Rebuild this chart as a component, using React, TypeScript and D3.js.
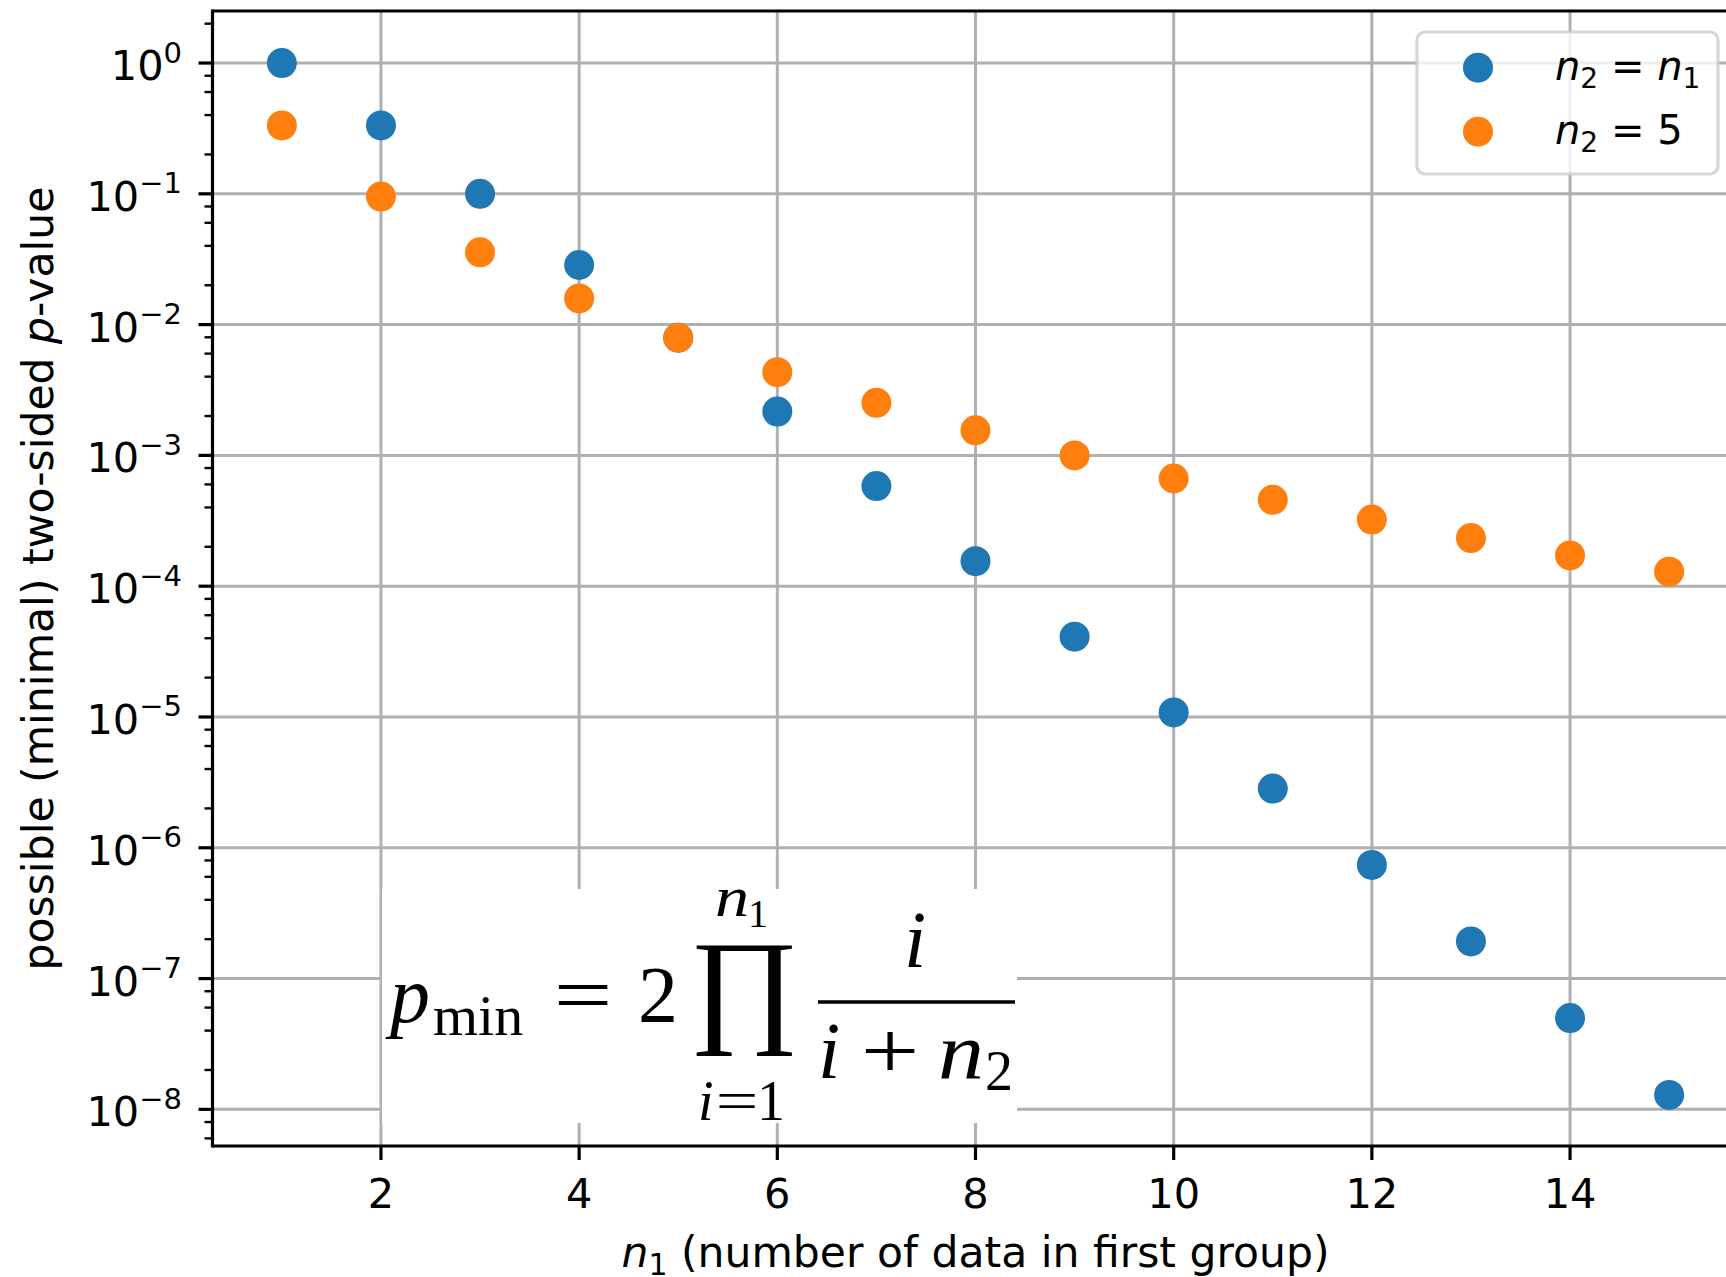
import React, { useMemo } from 'react';
import * as d3 from 'd3';

// ---- data ----
const n1Values = [1, 2, 3, 4, 5, 6, 7, 8, 9, 10, 11, 12, 13, 14, 15];
const pEqualN = [1.0, 0.3333, 0.1, 0.02857, 0.007937, 0.002165, 0.0005828, 0.0001554, 4.114e-5, 1.083e-5, 2.835e-6, 7.396e-7, 1.923e-7, 4.985e-8, 1.289e-8];
const pN2Five = [0.3333, 0.09524, 0.03571, 0.01587, 0.007937, 0.004329, 0.002525, 0.001554, 0.000999, 0.000666, 0.0004579, 0.0003232, 0.0002334, 0.000172, 0.000129];
const xTicks = [2, 4, 6, 8, 10, 12, 14];
const yTickExponents = [0, -1, -2, -3, -4, -5, -6, -7, -8];
const yMinorSubs = [2, 4, 6, 8];
const seriesColors = ['#1f77b4', '#ff7f0e'];

const W = 1726;
const H = 1277;
const LEFT = 212.5;
const RIGHT = 1738.5;
const TOP = 11;
const BOTTOM = 1146;

const SANS = "'DejaVu Sans', sans-serif";
const SERIF = "'Liberation Serif', 'DejaVu Serif', serif";

function useInkFit(text: string, font: string, box: [number, number, number, number]) {
  return useMemo(() => {
    const ctx = document.createElement('canvas').getContext('2d');
    if (!ctx) return '';
    ctx.font = `100px ${font}`;
    const m = ctx.measureText(text);
    const l = -m.actualBoundingBoxLeft;
    const r = m.actualBoundingBoxRight;
    const t = -m.actualBoundingBoxAscent;
    const b = m.actualBoundingBoxDescent;
    const [x0, y0, x1, y1] = box;
    const sx = (x1 - x0) / (r - l);
    const sy = (y1 - y0) / (b - t);
    return `translate(${x0 - l * sx},${y0 - t * sy}) scale(${sx},${sy})`;
  }, [text, font, box[0], box[1], box[2], box[3]]);
}

export default function App() {
  const x = d3.scaleLinear().domain([0.3, 15.7]).range([LEFT, RIGHT]);
  const y = d3.scaleLog().domain([Math.pow(10, -8.284), Math.pow(10, 0.394)]).range([BOTTOM + 0.5, TOP + 0.5]);
  const [yLo, yHi] = y.domain();

  const minorTicks: number[] = [];
  for (let k = -9; k <= 0; k++) {
    for (const s of yMinorSubs) {
      const v = s * Math.pow(10, k);
      if (v >= yLo && v <= yHi) minorTicks.push(v);
    }
  }

  const prodTransform = useInkFit('\u220F', SERIF, [696, 945, 792, 1057]);

  const grid = '#b0b0b0';
  const series = [
    { values: pEqualN, color: seriesColors[0] },
    { values: pN2Five, color: seriesColors[1] },
  ];

  return (
    <svg width={W} height={H} style={{ position: 'absolute', left: 0, top: 0, background: '#fff' }}>
      <rect x={0} y={0} width={W} height={H} fill="#fff" />
      {/* grid */}
      {xTicks.map((t) => (
        <line key={'gx' + t} x1={x(t)} x2={x(t)} y1={TOP} y2={BOTTOM} stroke={grid} strokeWidth={3} />
      ))}
      {yTickExponents.map((e) => (
        <line key={'gy' + e} x1={LEFT} x2={RIGHT} y1={y(Math.pow(10, e))} y2={y(Math.pow(10, e))} stroke={grid} strokeWidth={3} />
      ))}

      {/* formula */}
      <rect x={382} y={889} width={635} height={234} fill="#fff" />
      <g fontFamily={SERIF} fill="#000">
        <text x={390} y={1022} fontSize={80} fontStyle="italic">p</text>
        <text x={433} y={1035} fontSize={58}>min</text>
        <text transform="translate(583,1022) scale(1.3,1)" fontSize={80} textAnchor="middle">=</text>
        <text x={638} y={1022} fontSize={80}>2</text>
        <text transform={prodTransform} fontSize={100}>{'\u220F'}</text>
        <text transform="translate(715,916) scale(1.22,1)" fontSize={56} fontStyle="italic">n</text>
        <text x={748} y={927} fontSize={40}>1</text>
        <text x={698} y={1120} fontSize={56} fontStyle="italic">i</text>
        <text transform="translate(737,1120) scale(1.35,1)" fontSize={56} textAnchor="middle">=</text>
        <text x={757} y={1120} fontSize={56}>1</text>
        <text x={904} y={967} fontSize={80} fontStyle="italic">i</text>
        <line x1={818} x2={1015} y1={1002} y2={1002} stroke="#000" strokeWidth={3.5} />
        <text x={818} y={1078} fontSize={80} fontStyle="italic">i</text>
        <text transform="translate(890,1078) scale(1.3,1)" fontSize={80} textAnchor="middle">+</text>
        <text transform="translate(938,1078) scale(1.15,1)" fontSize={80} fontStyle="italic">n</text>
        <text x={985} y={1090} fontSize={56}>2</text>
      </g>

      {/* points */}
      {series.map((s, si) => (
        <g key={'s' + si} fill={s.color}>
          {n1Values.map((n, i) => (
            <circle key={i} cx={x(n)} cy={y(s.values[i])} r={15} />
          ))}
        </g>
      ))}

      {/* spines */}
      <g stroke="#000" strokeWidth={3.2} fill="none">
        <line x1={LEFT} x2={LEFT} y1={TOP - 1.6} y2={BOTTOM + 1.6} />
        <line x1={LEFT} x2={RIGHT} y1={TOP} y2={TOP} />
        <line x1={LEFT} x2={RIGHT} y1={BOTTOM} y2={BOTTOM} />
        <line x1={RIGHT} x2={RIGHT} y1={TOP} y2={BOTTOM} />
      </g>

      {/* x ticks */}
      {xTicks.map((t) => (
        <g key={'xt' + t}>
          <line x1={x(t)} x2={x(t)} y1={BOTTOM} y2={BOTTOM + 14} stroke="#000" strokeWidth={3.2} />
          <text x={x(t)} y={1208} fontFamily={SANS} fontSize={41.5} textAnchor="middle" fill="#000">{t}</text>
        </g>
      ))}

      {/* y ticks */}
      {yTickExponents.map((e) => {
        const yy = y(Math.pow(10, e));
        const sup = e === 0 ? '0' : '\u2212' + Math.abs(e);
        return (
          <g key={'yt' + e}>
            <line x1={LEFT - 14} x2={LEFT} y1={yy} y2={yy} stroke="#000" strokeWidth={3.2} />
            <text x={182} y={yy + 17} fontFamily={SANS} fontSize={41.5} textAnchor="end" fill="#000">
              <tspan>10</tspan>
              <tspan fontSize={29} dy={-17.5}>{sup}</tspan>
            </text>
          </g>
        );
      })}
      {minorTicks.map((v, i) => (
        <line key={'ym' + i} x1={LEFT - 8} x2={LEFT} y1={y(v)} y2={y(v)} stroke="#000" strokeWidth={2.4} />
      ))}

      {/* legend */}
      <rect x={1417} y={32} width={301} height={142} rx={8} ry={8} fill="#fff" fillOpacity={0.8} stroke="#cccccc" strokeOpacity={0.8} strokeWidth={3.2} />
      <circle cx={1478} cy={67.7} r={15} fill={seriesColors[0]} />
      <circle cx={1478} cy={131.7} r={15} fill={seriesColors[1]} />
      <text x={1555} y={80} fontFamily={SANS} fontSize={40} fill="#000">
        <tspan fontStyle="italic">n</tspan>
        <tspan fontSize={28} dy={8}>2</tspan>
        <tspan dy={-8}>{' = '}</tspan>
        <tspan fontStyle="italic">n</tspan>
        <tspan fontSize={28} dy={8}>1</tspan>
      </text>
      <text x={1555} y={144} fontFamily={SANS} fontSize={40} fill="#000">
        <tspan fontStyle="italic">n</tspan>
        <tspan fontSize={28} dy={8}>2</tspan>
        <tspan dy={-8}>{' = 5'}</tspan>
      </text>

      {/* axis labels */}
      <text x={(LEFT + RIGHT) / 2} y={1267} fontFamily={SANS} fontSize={42.5} textAnchor="middle" fill="#000">
        <tspan fontStyle="italic">n</tspan>
        <tspan fontSize={30} dy={8}>1</tspan>
        <tspan dy={-8}>{' (number of data in first group)'}</tspan>
      </text>
      <text transform={`translate(53,${(TOP + BOTTOM) / 2}) rotate(-90)`} fontFamily={SANS} fontSize={42.5} textAnchor="middle" fill="#000">
        <tspan>{'possible (minimal) two-sided '}</tspan>
        <tspan fontStyle="italic">p</tspan>
        <tspan>-value</tspan>
      </text>
    </svg>
  );
}
